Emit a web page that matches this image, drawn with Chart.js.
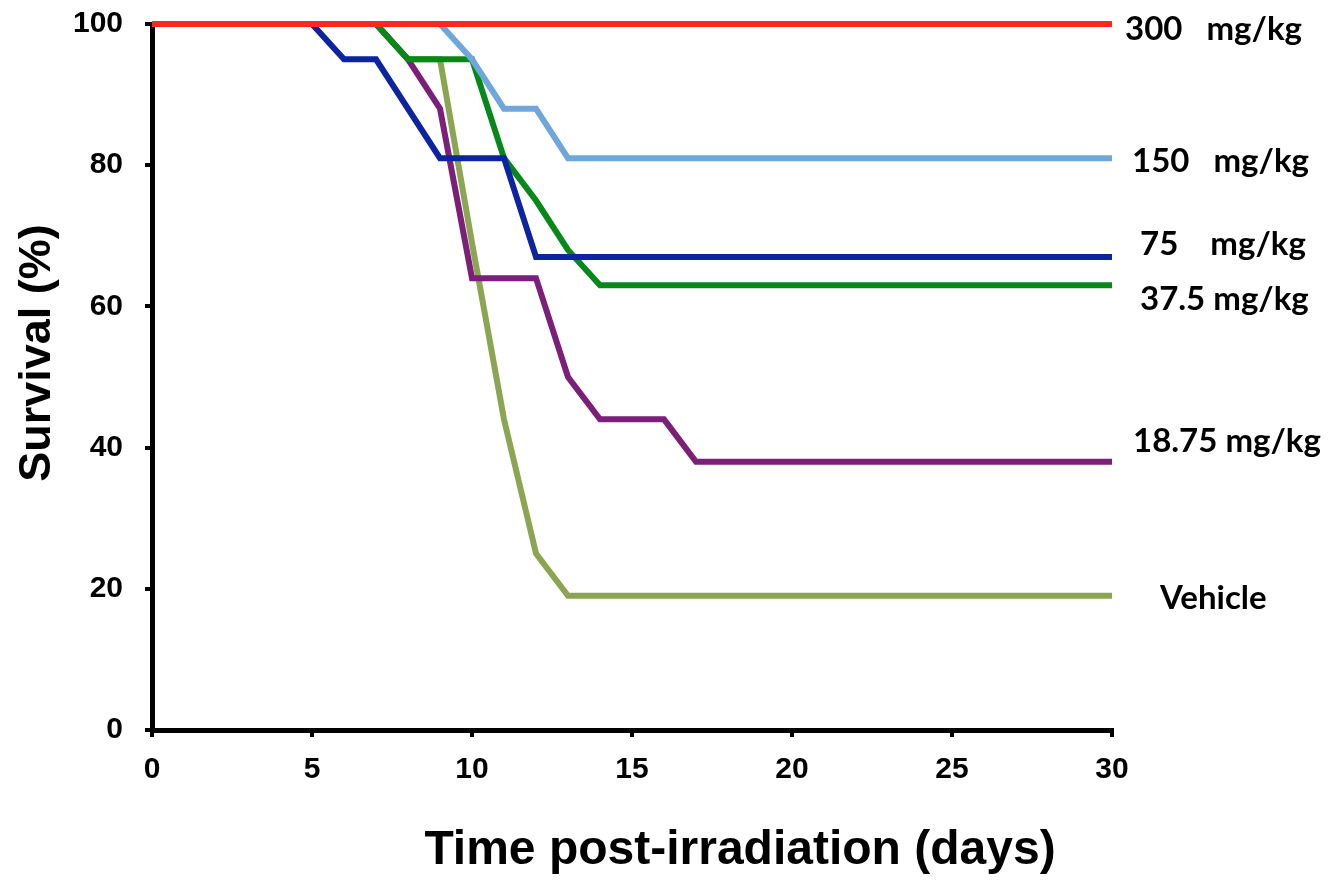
<!DOCTYPE html>
<html>
<head>
<meta charset="utf-8">
<script src="https://cdn.jsdelivr.net/npm/chart.js@4"></script>
<style>
  body { margin: 0; background: #fff; }
  #wrap { width: 1338px; height: 882px; }
</style>
</head>
<body>
<div id="wrap"><canvas id="chart1"></canvas></div>
<script>
// survival (%), by day
const days300 = [0, 30];
const surv300 = [100, 100];
const days150 = [0, 9, 10, 11, 12, 13, 30];
const surv150 = [100, 100, 95, 88, 88, 81, 81];
const days75 = [0, 5, 6, 7, 9, 11, 12, 30];
const surv75 = [100, 100, 95, 95, 81, 81, 67, 67];
const days37 = [0, 7, 8, 10, 11, 12, 13, 14, 30];
const surv37 = [100, 100, 95, 95, 81, 75, 68, 63, 63];
const days18 = [0, 7, 8, 9, 10, 12, 13, 14, 16, 17, 30];
const surv18 = [100, 100, 95, 88, 64, 64, 50, 44, 44, 38, 38];
const daysVeh = [0, 7, 8, 9, 10, 11, 12, 13, 30];
const survVeh = [100, 100, 95, 95, 69, 44, 25, 19, 19];

const groupNames = ['300   mg/kg', '150   mg/kg', '75    mg/kg', '37.5 mg/kg', '18.75 mg/kg', 'Vehicle'];
const xTicks = [0, 5, 10, 15, 20, 25, 30];
const yTicks = [0, 20, 40, 60, 80, 100];

const colors = ['#ff2a1c', '#6fa6dc', '#0c24a0', '#07891a', '#7b1f78', '#8ca552'];
// label placement next to each line end: [dx from plot right, dy from line end]
const labelPos = [[13, 5], [20, 3], [28, -13], [28, 14], [21, -20], [48, 2]];

function pts(xs, ys) {
    return xs.map((x, i) => ({ x: x, y: ys[i] }));
}

const allDays = [days300, days150, days75, days37, days18, daysVeh];
const allSurv = [surv300, surv150, surv75, surv37, surv18, survVeh];

const datasets = allDays.map((d, i) => ({
    label: groupNames[i],
    data: pts(d, allSurv[i]),
    borderColor: colors[i],
    backgroundColor: colors[i],
    borderWidth: 6,
    pointRadius: 0,
    tension: 0,
    clip: false
}));

const endLabels = {
    id: 'endLabels',
    afterDatasetsDraw(chart) {
        const ctx = chart.ctx;
        const ys = chart.scales.y;
        const area = chart.chartArea;
        ctx.save();
        ctx.font = 'bold 33px Lato, "Open Sans", sans-serif';
        ctx.fillStyle = '#000';
        ctx.textAlign = 'left';
        ctx.textBaseline = 'middle';
        allSurv.forEach((s, i) => {
            const y = ys.getPixelForValue(s[s.length - 1]) + labelPos[i][1];
            ctx.fillText(groupNames[i], area.right + labelPos[i][0], y);
        });
        ctx.restore();
    }
};

const axisTitles = {
    id: 'axisTitles',
    afterDraw(chart) {
        const ctx = chart.ctx;
        const area = chart.chartArea;
        ctx.save();
        ctx.fillStyle = '#000';
        ctx.textAlign = 'center';
        ctx.textBaseline = 'middle';
        ctx.font = 'bold 48px "Liberation Sans", Arial, sans-serif';
        ctx.fillText('Time post-irradiation (days)', area.left + 588, 851);
        ctx.translate(38, 353);
        ctx.rotate(-Math.PI / 2);
        ctx.font = 'bold 45px "Liberation Sans", Arial, sans-serif';
        ctx.fillText('Survival (%)', 0, 0);
        ctx.restore();
    }
};

const tickFont = { family: '"Liberation Sans", Arial, sans-serif', size: 30, weight: 'bold' };

const ctx = document.getElementById('chart1').getContext('2d');
const chart = new Chart(ctx, {
    type: 'line',
    data: { datasets: datasets },
    options: {
        responsive: true,
        maintainAspectRatio: false,
        animation: false,
        layout: { padding: { top: 24, right: 226, bottom: 0, left: 0 } },
        plugins: {
            legend: { display: false },
            tooltip: { enabled: false }
        },
        scales: {
            x: {
                type: 'linear',
                min: 0,
                max: 30,
                afterBuildTicks: (axis) => { axis.ticks = xTicks.map(v => ({ value: v })); },
                afterFit: (axis) => { axis.height = 152; },
                ticks: { color: '#000', font: tickFont, padding: 15 },
                grid: { drawOnChartArea: false, drawTicks: true, tickLength: 7, color: '#000', lineWidth: 4 },
                border: { color: '#000', width: 5 }
            },
            y: {
                min: 0,
                max: 100,
                afterBuildTicks: (axis) => { axis.ticks = yTicks.map(v => ({ value: v })); },
                afterFit: (axis) => {
                    axis.width = 152;
                    axis.paddingTop = 0;
                    axis.paddingBottom = 0;
                },
                ticks: { color: '#000', font: tickFont, padding: 22 },
                grid: { drawOnChartArea: false, drawTicks: true, tickLength: 7, color: '#000', lineWidth: 4 },
                border: { color: '#000', width: 5 }
            }
        }
    },
    plugins: [endLabels, axisTitles]
});
</script>
</body>
</html>
